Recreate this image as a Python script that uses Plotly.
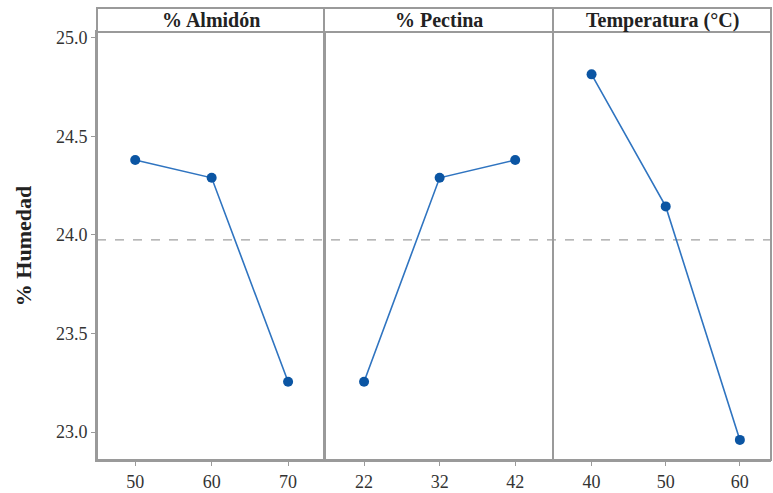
import plotly.graph_objects as go

panel_titles = ["% Almidón", "% Pectina", "Temperatura (°C)"]
almidon_x = [50, 60, 70]
almidon_y = [24.38, 24.29, 23.255]
pectina_x = [22, 32, 42]
pectina_y = [23.255, 24.29, 24.38]
temp_x = [40, 50, 60]
temp_y = [24.815, 24.145, 22.96]
grand_mean = 23.975
y_ticks = [23.0, 23.5, 24.0, 24.5, 25.0]

xs = [almidon_x, pectina_x, temp_x]
ys = [almidon_y, pectina_y, temp_y]
xranges = [[45.0, 74.7], [16.7, 47.0], [34.8, 64.2]]

W, H = 773, 493
ml, mr, mt, mb = 97, 2, 32, 33
pw = W - ml - mr
edges_px = [0, 227, 456, pw]
domains = [[edges_px[i] / pw, edges_px[i + 1] / pw] for i in range(3)]

SERIF = "Liberation Serif, DejaVu Serif, serif"
fig = go.Figure()
gray = "#9a9a9a"
tickfont = dict(family=SERIF, size=18, color="#333333")

for i in range(3):
    xa = "x" if i == 0 else f"x{i+1}"
    fig.add_trace(go.Scatter(
        x=xs[i], y=ys[i], mode="lines+markers", xaxis=xa, yaxis="y",
        line=dict(color="#2f74c0", width=1.6),
        marker=dict(color="#0b55a3", size=10),
        showlegend=False, cliponaxis=False))
    key = "xaxis" if i == 0 else f"xaxis{i+1}"
    fig.layout[key] = dict(
        domain=domains[i], range=xranges[i], anchor="y",
        tickvals=xs[i], ticktext=[str(v) for v in xs[i]],
        ticks="outside", ticklen=4, tickcolor=gray, tickwidth=1,
        showline=True, linecolor=gray, linewidth=2, mirror=True,
        showgrid=False, zeroline=False, tickfont=tickfont)

fig.update_layout(
    width=W, height=H,
    margin=dict(l=ml, r=mr, t=mt, b=mb),
    paper_bgcolor="white", plot_bgcolor="white",
    font=dict(family=SERIF),
    yaxis=dict(range=[22.858, 25.03], tickvals=y_ticks,
               ticktext=[f"{v:.1f}" for v in y_ticks],
               ticks="outside", ticklen=4, tickcolor=gray,
               showline=True, linecolor=gray, linewidth=2, mirror=True,
               showgrid=False, zeroline=False, tickfont=tickfont,
               title=dict(text="<b>% Humedad</b>",
                          font=dict(family=SERIF, size=22, color="#222222"),
                          standoff=18)),
)

# grand mean dashed line
fig.add_shape(type="line", xref="paper", yref="y", x0=0, x1=1,
              y0=grand_mean, y1=grand_mean,
              line=dict(color="#a0a0a0", width=1.3, dash="dash"), layer="below")

# panel borders and header strips
strip_top = 1 + 24 / (H - mt - mb)
for i in range(3):
    fig.add_shape(type="rect", xref="paper", yref="paper",
                  x0=domains[i][0], x1=domains[i][1], y0=0, y1=1,
                  line=dict(color=gray, width=2), fillcolor="rgba(0,0,0,0)")
    fig.add_shape(type="rect", xref="paper", yref="paper",
                  x0=domains[i][0], x1=domains[i][1], y0=1, y1=strip_top,
                  line=dict(color=gray, width=2), fillcolor="white")
    fig.add_annotation(xref="paper", yref="paper",
                       x=(domains[i][0] + domains[i][1]) / 2, y=(1 + strip_top) / 2,
                       text=f"<b>{panel_titles[i]}</b>", showarrow=False,
                       font=dict(family=SERIF, size=20, color="#222222"),
                       xanchor="center", yanchor="middle")

fig.write_html("out.html")
